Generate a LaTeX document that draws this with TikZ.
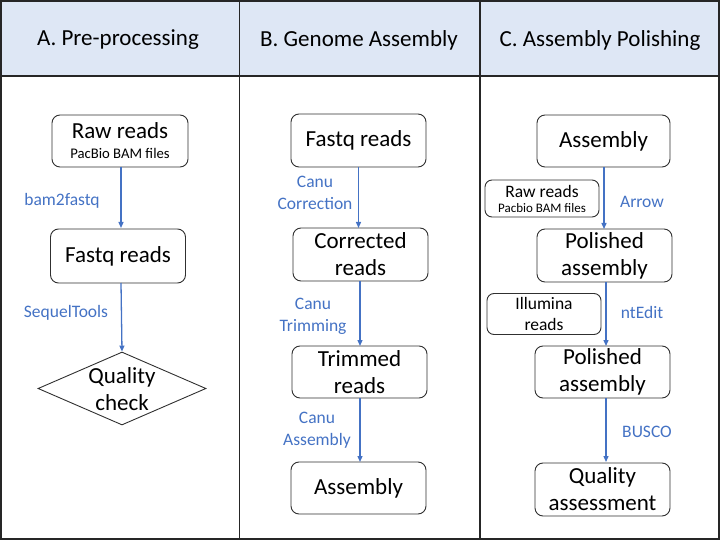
\documentclass[tikz,border=0pt]{standalone}
\usepackage{fontspec}
\setmainfont{Carlito}
\usetikzlibrary{arrows.meta,shapes.geometric}
\definecolor{hdrfill}{HTML}{DEE7F5}
\definecolor{lblblue}{HTML}{4472C4}
\definecolor{boxline}{HTML}{303030}
\tikzset{
  box/.style={draw=boxline, line width=0.9pt, rounded corners=8pt, fill=white,
    minimum width=135pt, minimum height=53pt, inner sep=0pt, align=center,
    font=\fontsize{23}{27}\selectfont},
  smallbox/.style={draw=boxline, line width=0.9pt, rounded corners=7pt, fill=white,
    minimum width=114pt, inner sep=0pt, align=center,
    font=\fontsize{17.5}{21}\selectfont},
  hdr/.style={font=\fontsize{23}{26}\selectfont},
  lbl/.style={text=lblblue, align=center, font=\fontsize{17.5}{22}\selectfont},
  flow/.style={draw=lblblue, line width=1.3pt, -{Triangle[length=6pt,width=5pt]}},
  grid/.style={line width=1.4pt, draw=black!85}
}
\begin{document}
\begin{tikzpicture}[x=1pt,y=-1pt]
\useasboundingbox (0,0) rectangle (720,540);
% table
\fill[hdrfill] (0,0) rectangle (720,76);
\draw[grid] (0,76) -- (720,76);
\draw[grid] (239.5,0) -- (239.5,539);
\draw[grid] (480,0) -- (480,539);
\draw[line width=2pt, draw=black!85] (1,1) rectangle (719,538.5);
\node[hdr] (ha) at (118,40) {A. Pre-processing};
\node[hdr] (hb) at (359,40) {B. Genome Assembly};
\node[hdr] (hc) at (600,40) {C. Assembly Polishing};

% column A
\node[box, minimum width=136pt, minimum height=52pt] (araw) at (120,141)
  {Raw reads\\[-7pt]{\fontsize{14.7}{16}\selectfont PacBio BAM files}};
\node[box, minimum height=54pt] (afq) at (118,256) {Fastq reads};
\node[draw=boxline, line width=0.9pt, diamond, minimum width=168pt, minimum height=73pt, inner sep=0pt] (aqc) at (122,388.5) {};
\node[align=center, font=\fontsize{23}{27}\selectfont] (aqct) at (122,389) {Quality\\check};
\draw[flow] (121,167) -- (121,228);
\draw[flow] (121,283) -- (aqc.north);
\node[lbl] (l1) at (62,201) {bam2fastq};
\node[lbl] (l2) at (66,313) {SequelTools};

% column B
\node[box] (bfq) at (358.5,140.5) {Fastq reads};
\node[box] (bcor) at (360.5,254.5) {Corrected\\reads};
\node[box, minimum height=52pt] (btrim) at (359.5,372) {Trimmed\\reads};
\node[box, minimum height=52pt] (basm) at (358.5,488) {Assembly};
\draw[flow] (358.5,167) -- (358.5,228);
\draw[flow] (360,281) -- (360,346);
\draw[flow] (360,398) -- (360,462);
\node[lbl] (l3) at (315,193) {Canu\\Correction};
\node[lbl] (l4) at (313,316) {Canu\\Trimming};
\node[lbl] (l5) at (317,430) {Canu\\Assembly};

% column C
\node[box, minimum width=133pt, minimum height=52pt] (casm) at (603.5,141) {Assembly};
\node[box] (cpol1) at (604.5,255.5) {Polished\\assembly};
\node[box, minimum height=52pt] (cpol2) at (602.5,372) {Polished\\assembly};
\node[box] (cqa) at (602.5,489.5) {Quality\\assessment};
\node[smallbox, minimum height=37pt] (craw) at (542,198.5)
  {Raw reads\\[-6pt]{\fontsize{13}{14}\selectfont Pacbio BAM files}};
\node[smallbox, minimum height=41pt, font=\fontsize{17.5}{21}\selectfont] (cill) at (544,314) {Illumina\\reads};
\draw[flow] (604,167) -- (604,229);
\draw[flow] (606,282) -- (606,346);
\draw[flow] (606,398) -- (606,462);
\node[lbl] (l6) at (642,202) {Arrow};
\node[lbl] (l7) at (642,312) {ntEdit};
\node[lbl] (l8) at (647,432) {BUSCO};
\end{tikzpicture}
\end{document}
